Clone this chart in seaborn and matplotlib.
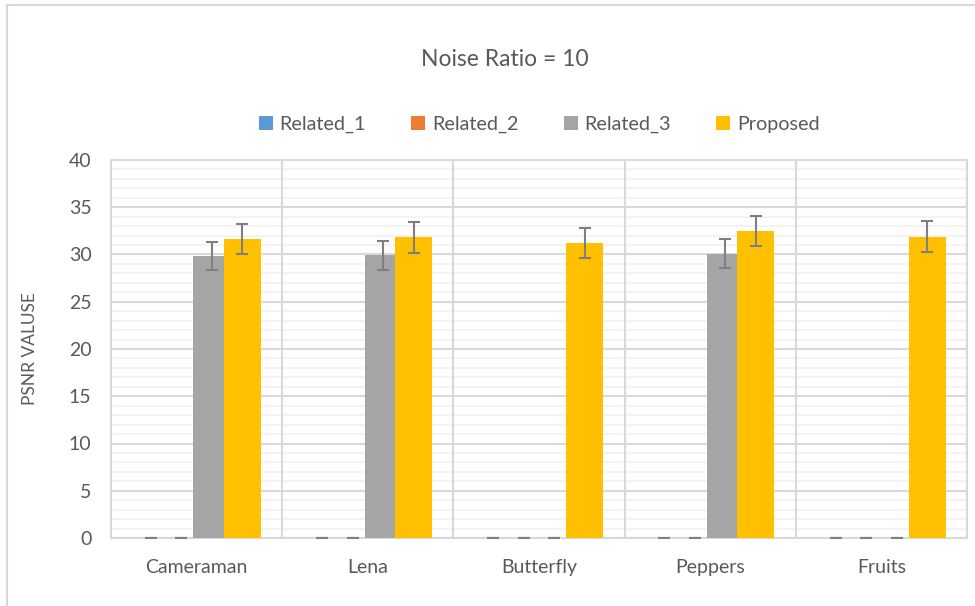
import numpy as np
import pandas as pd
import matplotlib
matplotlib.use("Agg")
import matplotlib.pyplot as plt
import seaborn as sns
from matplotlib.lines import Line2D
from matplotlib.patches import Patch

images = ["Cameraman", "Lena", "Butterfly", "Peppers", "Fruits"]
methods = ["Related_1", "Related_2", "Related_3", "Proposed"]
related_1 = [0, 0, 0, 0, 0]
related_2 = [0, 0, 0, 0, 0]
related_3 = [29.8, 29.9, 0, 30.1, 0]
proposed = [31.6, 31.8, 31.2, 32.5, 31.9]
# 5% error bars, as in the original sheet
err_pct = 0.05

colors = ["#5b9bd5", "#ed7d31", "#a5a5a5", "#ffc000"]
text_col = "#595959"

rows = []
for name, vals in zip(methods, [related_1, related_2, related_3, proposed]):
    for img, v in zip(images, vals):
        rows.append({"image": img, "method": name, "psnr": v})
df = pd.DataFrame(rows)

sns.set_theme(style="white")
plt.rcParams["font.family"] = ["Lato", "DejaVu Sans"]

fig = plt.figure(figsize=(9.75, 6.06), dpi=100)
ax = fig.add_axes([111 / 975, 1 - 538 / 606, (967 - 111) / 975, (538 - 160) / 606])

sns.barplot(data=df, x="image", y="psnr", hue="method", order=images,
            hue_order=methods, palette=colors, width=0.712, errorbar=None,
            saturation=1, ax=ax, legend=False, zorder=3)

# widen bars so neighbouring series overlap slightly (Excel-style)
bar_w = 0.216
for p in ax.patches:
    cx = p.get_x() + p.get_width() / 2
    p.set_width(bar_w)
    p.set_x(cx - bar_w / 2)
    p.set_edgecolor("none")

for p in ax.patches:
    h = p.get_height()
    cx = p.get_x() + p.get_width() / 2
    ax.errorbar(cx, h, yerr=h * err_pct, fmt="none", ecolor="#7f7f7f",
                elinewidth=1.5, capsize=4.3, capthick=1.5, zorder=4)

ax.set_ylim(0, 40)
ax.set_xlim(-0.5, 4.5)
ax.set_yticks(np.arange(0, 41, 5))
ax.set_yticks(np.arange(0, 41, 1), minor=True)
ax.grid(axis="y", which="minor", color="#f2f2f2", lw=1.3, zorder=0)
ax.grid(axis="y", which="major", color="#d9d9d9", lw=1.5, zorder=1)
for xb in np.arange(-0.5, 5, 1):
    ax.axvline(xb, color="#d9d9d9", lw=1.5, zorder=1)
for s in ax.spines.values():
    s.set_color("#d9d9d9")
    s.set_linewidth(1.5)

ax.tick_params(axis="both", length=0, labelsize=14, colors=text_col)
ax.tick_params(axis="x", pad=15)
ax.tick_params(axis="y", pad=14)
ax.set_xlabel("")
ax.set_ylabel("PSNR VALUSE", fontsize=12.5, color=text_col, va="center")
ax.yaxis.set_label_coords(-0.095, 0.5)

fig.text(0.518, 0.901, "Noise Ratio = 10", ha="center", va="center",
         fontsize=16.5, color=text_col)

handles = [Patch(facecolor=c, edgecolor="none") for c in colors]
fig.legend(handles, methods, loc="center", bbox_to_anchor=(0.553, 0.794), ncol=4,
           frameon=False, fontsize=14.2, labelcolor=text_col, handlelength=0.7,
           handleheight=0.7, handletextpad=0.35, columnspacing=2.3)

# outer chart border
fig.add_artist(Line2D([7 / 975, 7 / 975], [0, 1 - 5 / 606], transform=fig.transFigure,
                      color="#d9d9d9", lw=1.5))
fig.add_artist(Line2D([7 / 975, 1], [1 - 5 / 606, 1 - 5 / 606], transform=fig.transFigure,
                      color="#d9d9d9", lw=1.5))

fig.savefig("out.png", dpi=100, facecolor="white")
